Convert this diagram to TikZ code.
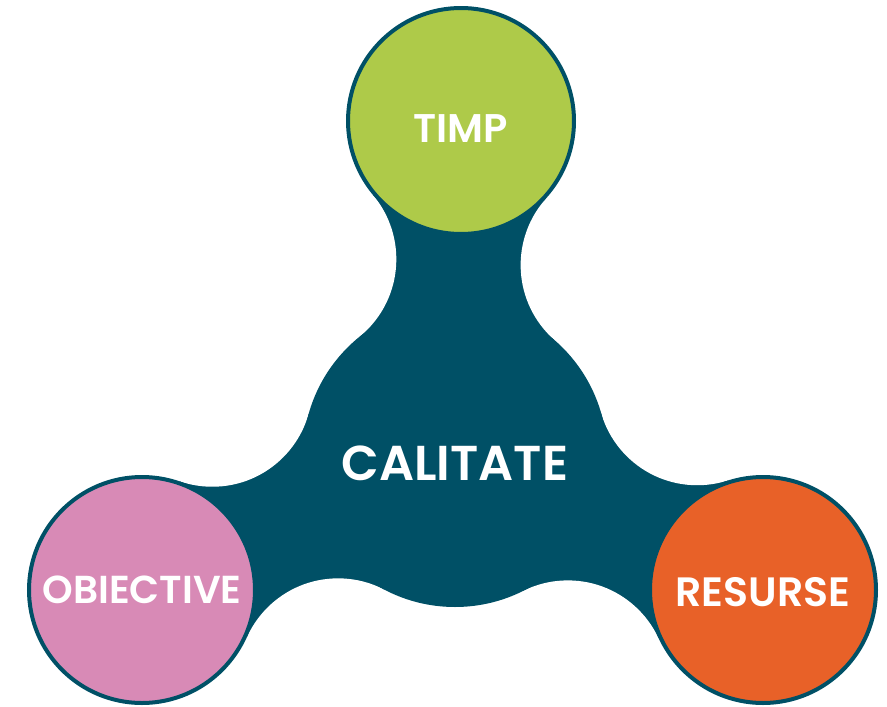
\documentclass[tikz,border=0pt]{standalone}
\usepackage{fontspec}
\setmainfont{Poppins}[BoldFont={Poppins SemiBold}]
\usetikzlibrary{calc,intersections,backgrounds}
\definecolor{petrol}{HTML}{005066}
\definecolor{verde}{HTML}{AECA49}
\definecolor{roz}{HTML}{D88AB6}
\definecolor{portocaliu}{HTML}{E86128}
\tikzset{bubble/.style={circle, draw=petrol, line width=4pt, minimum size=226pt,
                        inner sep=0pt, text=white,
                        font=\bfseries\fontsize{40}{40}\selectfont}}
\begin{document}
\begin{tikzpicture}[x=1pt,y=-1pt]
	\useasboundingbox (0,0) rectangle (887,707);
	\coordinate (mijloc) at (455,455);
	\node [bubble, fill=verde, text height=42pt] (timp) at (461,121) {TIMP};
	\node [bubble, fill=roz, font=\bfseries\fontsize{39}{39}\selectfont] (obiective) at (142,590) {OBIECTIVE};
	\node [bubble, fill=portocaliu, font=\bfseries\fontsize{41}{41}\selectfont,
	       text height=34pt] (resurse) at (763,590) {RESURSE};
	\node [text=white, font=\bfseries\fontsize{49}{49}\selectfont] (calitate) at (455,463) {CALITATE};
	\begin{scope}[on background layer]
		\foreach \o in {timp,obiective,resurse} {
			\path [name path=mare] (mijloc) circle (252pt);
			\path [name path=mic] (\o.center) circle (215pt);
			\path [name intersections={of=mare and mic, by={b1,b2}}];
			\fill [petrol] ($(mijloc)!0.6032!(b1)$) -- ($(\o.center)!0.5349!(b1)$)
				-- ($(\o.center)!0.5349!(b2)$) -- ($(mijloc)!0.6032!(b2)$) -- cycle;
			\fill [white] (b1) circle (100pt) (b2) circle (100pt);
		}
		\fill [petrol] (mijloc) circle (152pt);
	\end{scope}
\end{tikzpicture}
\end{document}
